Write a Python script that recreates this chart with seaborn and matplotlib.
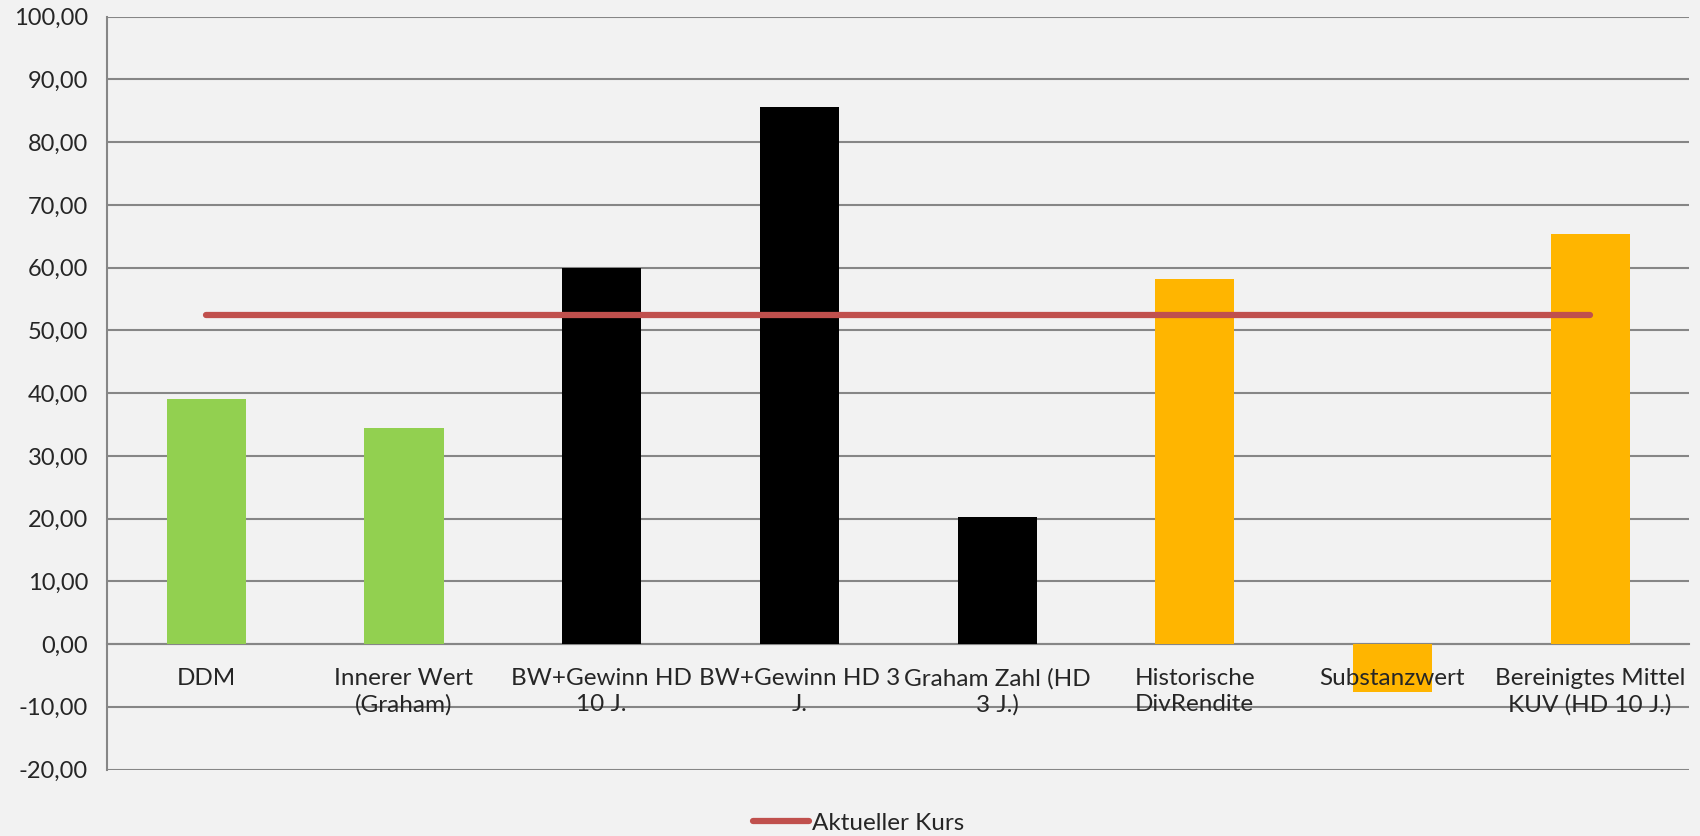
import numpy as np
import pandas as pd
import matplotlib
matplotlib.use("Agg")
import matplotlib.pyplot as plt
import seaborn as sns
from matplotlib.ticker import FuncFormatter, FixedLocator

# --- Daten ---
kategorien = ["DDM", "Innerer Wert\n(Graham)", "BW+Gewinn HD\n10 J.", "BW+Gewinn HD 3\nJ.",
              "Graham Zahl (HD\n3 J.)", "Historische\nDivRendite", "Substanzwert",
              "Bereinigtes Mittel\nKUV (HD 10 J.)"]
werte = [39.1, 34.5, 60.0, 85.6, 20.2, 58.2, -7.6, 65.4]
farben = ["#92D050", "#92D050", "#000000", "#000000", "#000000", "#FFB500", "#FFB500", "#FFB500"]
aktueller_kurs = [52.4] * len(kategorien)

sns.set_style("white")
plt.rcParams["font.family"] = ["Lato", "DejaVu Sans"]

bg = "#F2F2F2"
grau = "#868686"

fig = plt.figure(figsize=(17, 8.36), dpi=100, facecolor=bg)
ax = fig.add_axes([0.0632, 0.0795, 0.9303, 0.9005])
ax.set_facecolor(bg)

df = pd.DataFrame({"kat": kategorien, "wert": werte})
sns.barplot(data=df, x="kat", y="wert", hue="kat", palette=farben, legend=False,
            width=0.4, saturation=1, linewidth=0, edgecolor="none", ax=ax, zorder=3)
ax.plot(range(len(kategorien)), aktueller_kurs, color="#C0504D", lw=4.5,
        solid_capstyle="round", label="Aktueller Kurs", zorder=4)

ax.set_ylim(-20, 100)
ax.set_xlim(-0.5, len(kategorien) - 0.5)
ax.yaxis.set_major_locator(FixedLocator(np.arange(-20, 101, 10)))
ax.yaxis.set_major_formatter(FuncFormatter(lambda v, p: f"{v:.2f}".replace(".", ",")))
ax.grid(axis="y", color=grau, lw=1.5, zorder=0)
ax.set_axisbelow(True)

for s in ["top", "right"]:
    ax.spines[s].set_visible(False)
ax.spines["left"].set_color(grau)
ax.spines["left"].set_linewidth(1.5)
ax.spines["bottom"].set_position(("data", 0))
ax.spines["bottom"].set_color(grau)
ax.spines["bottom"].set_linewidth(1.5)

ax.tick_params(axis="y", length=8, width=1.5, color=grau, labelsize=17, pad=6)
ax.tick_params(axis="x", which="major", length=0, labelsize=17.5, pad=17)
ax.set_xticks(np.arange(-0.5, len(kategorien), 1), minor=True)
ax.tick_params(axis="x", which="minor", length=8, width=1.5, color=grau)
for t in ax.get_xticklabels():
    t.set_linespacing(1.3)
ax.xaxis.set_zorder(6)
ax.set_xlabel("")
ax.set_ylabel("")

fig.legend(loc="center", bbox_to_anchor=(0.505, 0.0155), frameon=False,
           fontsize=17.5, handlelength=2.3, handletextpad=0.1, borderaxespad=0)

fig.savefig("out.png", dpi=100, facecolor=bg)
